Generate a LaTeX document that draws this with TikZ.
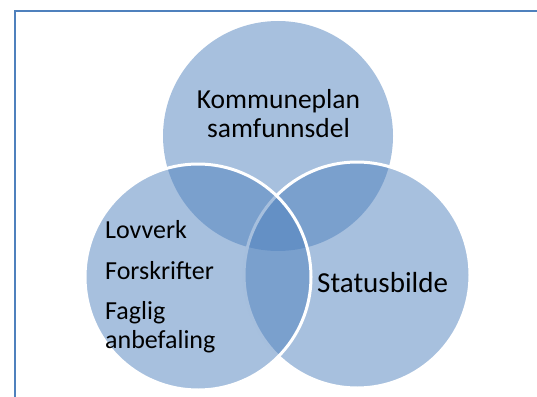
\documentclass[tikz,border=0pt]{standalone}
\usepackage{fontspec}
\setmainfont{Carlito}
\usepackage{tikz}
\usetikzlibrary{positioning}
\definecolor{venblue}{RGB}{79,129,189}

\begin{document}
\begin{tikzpicture}[x=1pt,y=-1pt,
	disc/.style={circle,minimum size=226pt,inner sep=0pt,fill=venblue,fill opacity=.5},
	rim/.style={draw=white,line width=3pt},
	lbl/.style={font=\fontsize{26}{29}\selectfont,text=black,inner sep=0pt}]
	\useasboundingbox (0,0) rectangle (537,396);
	
	\draw[venblue,line width=1.5pt] (15,400) -- (15,11) -- (540,11);
	
	\node[disc,minimum size=230pt] (plan) at (278,136) {};
	
	\node[disc,rim] (status) at (357,275) {};
	
	\node[disc,rim] (lov) at (198,277) {};
	
	\node[lbl,font=\fontsize{27.5}{29}\selectfont,align=center,anchor=base] (plantxt) at (278.5,137) {Kommuneplan\\samfunnsdel};
	
	\node[lbl,font=\fontsize{29}{29}\selectfont,anchor=base west] (statustxt) at (317,292) {Statusbilde};
	
	\node[lbl,anchor=base west] (lovverk) at (105,238) {Lovverk};
	
	\node[lbl,anchor=base west] (forskrifter) at (105,279) {Forskrifter};
	
	\node[lbl,anchor=base west] (faglig) at (105,319) {Faglig};
	
	\node[lbl,anchor=base west] (anbefaling) at (105,348) {anbefaling};
\end{tikzpicture}
\end{document}
